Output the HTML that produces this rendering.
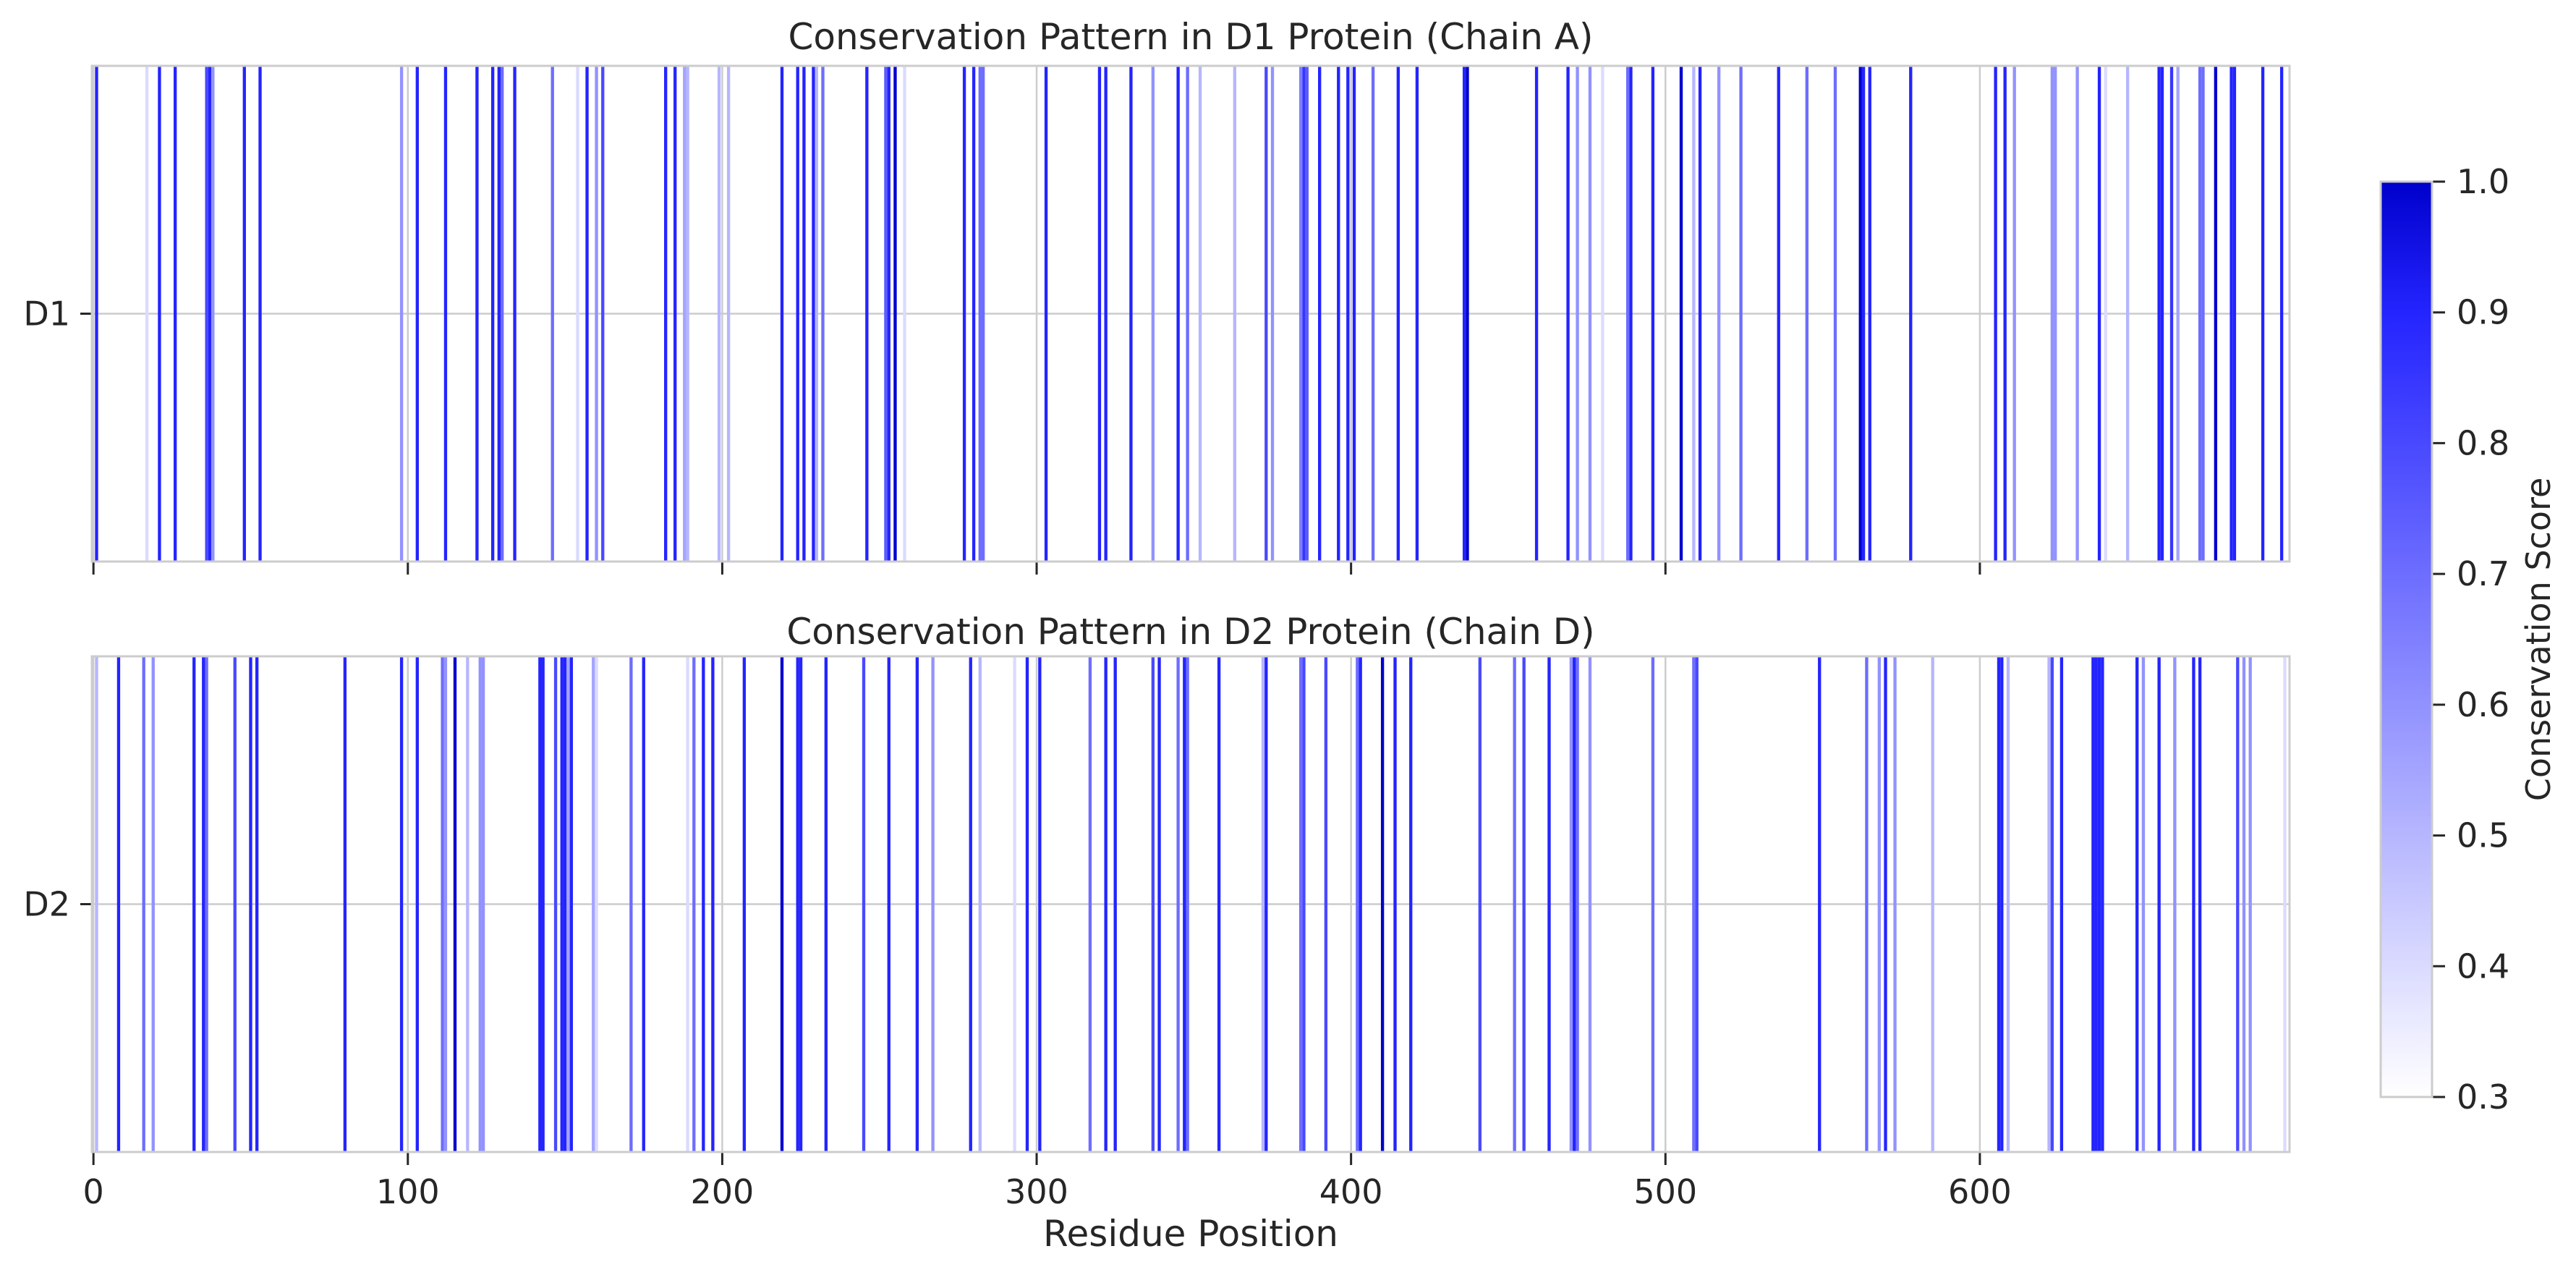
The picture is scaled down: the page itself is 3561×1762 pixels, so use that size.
<!DOCTYPE html>
<html>
<head>
<meta charset="utf-8">
<style>
  html,body{margin:0;padding:0;background:#fff;}
  svg{display:block;font-family:"DejaVu Sans","Liberation Sans",sans-serif;}
</style>
</head>
<body>
<svg id="chart" width="3561" height="1762" viewBox="0 0 3561 1762" xmlns="http://www.w3.org/2000/svg">
  <defs>
    <linearGradient id="cbgrad" x1="0" y1="1" x2="0" y2="0">
      <stop offset="0" stop-color="#ffffff"/>
      <stop offset="0.857" stop-color="#2424ff"/>
      <stop offset="1" stop-color="#0000cc"/>
    </linearGradient>
  </defs>
  <g id="panels"></g>
  <text x="1646" y="68" font-size="50" text-anchor="middle" fill="#262626">Conservation Pattern in D1 Protein (Chain A)</text>
  <text x="1646" y="890" font-size="50" text-anchor="middle" fill="#262626">Conservation Pattern in D2 Protein (Chain D)</text>
  <text x="1646" y="1722" font-size="50" text-anchor="middle" fill="#262626">Residue Position</text>
  <g id="colorbar"></g>
</svg>
<script>
const xTicks = [0, 100, 200, 300, 400, 500, 600];
const cbTicks = [0.3, 0.4, 0.5, 0.6, 0.7, 0.8, 0.9, 1.0];
const d1Pos = [1,17,21,26,36,37,38,48,53,98,103,112,122,127,129,130,134,146,154,157,160,162,182,185,188,189,199,202,219,224,226,229,230,232,246,252,253,255,258,277,280,282,283,303,320,322,330,337,345,348,352,363,373,375,384,385,386,390,396,399,401,407,415,421,436,437,459,469,472,476,480,488,489,496,505,509,511,517,524,536,545,554,562,563,565,578,605,608,611,623,624,631,638,640,647,657,658,661,663,670,671,675,680,681,690,696];
const d1Val = [.9,.4,.9,.9,.8,.9,.6,.9,.9,.6,.9,.9,.9,.9,.9,.7,.9,.7,.4,.9,.6,.8,.9,.9,.55,.5,.5,.5,.9,.9,.9,.9,.5,.7,.9,.75,.9,1.0,.4,.9,.9,.7,.7,.9,.9,.9,.9,.6,.9,.7,.5,.5,.8,.6,.65,.85,.75,.9,.9,.9,.9,.7,.9,.9,.9,1.0,.9,.9,.6,.6,.4,.7,.9,.9,1.0,.5,.9,.6,.7,.9,.7,.7,1.0,.9,.9,.9,.9,.9,.6,.6,.6,.6,.9,.4,.5,.9,.9,.85,.55,.7,.7,1.0,.9,.9,.9,.9];
const d2Pos = [1,8,16,19,32,35,36,45,50,52,80,98,103,111,112,115,119,123,124,142,143,147,149,150,151,152,159,160,171,175,189,191,194,197,207,219,224,225,233,245,253,262,267,279,282,293,297,301,317,322,325,337,339,345,347,348,358,372,373,384,385,392,402,403,410,414,419,441,452,455,463,470,471,472,476,496,509,510,549,564,568,570,573,585,606,607,609,622,623,626,636,637,638,639,650,652,657,662,668,670,682,684,686,697];
const d2Val = [.5,.9,.7,.6,.9,.9,.7,.8,.9,.9,.9,.9,.9,.7,.6,1.0,.5,.6,.6,.9,.9,.8,.9,.9,.55,.9,.55,.4,.7,.9,.4,.7,.9,.9,.9,1.0,.9,.9,.9,.8,.9,.9,.6,.9,.5,.4,.9,.9,.7,.9,.9,.8,.9,.7,.9,.7,.9,.5,.9,.7,.8,.8,.7,.9,1.0,.9,.9,.8,.7,.8,.9,.6,.9,.7,.6,.7,.7,.8,.9,.7,.6,.9,.6,.5,.9,.9,.5,.5,.8,.9,.9,.9,.9,.9,.9,.6,.9,.6,.9,.9,.8,.6,.6,.4];

const NS = "http://www.w3.org/2000/svg";
const AX_L = 127, AX_R = 3165, XMIN = -0.5, XMAX = 698.5;
function xs(u){ return AX_L + (u - XMIN) / (XMAX - XMIN) * (AX_R - AX_L); }
function color(v){
  let r, b;
  if (v <= 0.9){ const t = Math.max(0,(v-0.3)/0.6); r = 255 - 219*t; b = 255; }
  else { const s = Math.min(1,(v-0.9)/0.1); r = 36*(1-s); b = 255 - 51*s; }
  r = Math.round(r); b = Math.round(b);
  return `rgb(${r},${r},${b})`;
}
function mk(tag, attrs, parent){
  const e = document.createElementNS(NS, tag);
  for (const k in attrs) e.setAttribute(k, attrs[k]);
  parent.appendChild(e);
  return e;
}
const panels = document.getElementById("panels");
const cbG = document.getElementById("colorbar");

function drawPanel(top, bottom, pos, val, label, showLabels, key){
  const g = mk("g", {}, panels);
  
  
  const midY = (top + bottom) / 2;
  xTicks.forEach(t => {
    const l = mk("line", {x1: xs(t), x2: xs(t), y1: top, y2: bottom, stroke: "#cccccc", "stroke-width": 2.5}, g);
    
    
  });
  const hl = mk("line", {x1: AX_L, x2: AX_R, y1: midY, y2: midY, stroke: "#cccccc", "stroke-width": 2.5}, g);
  
  
  const w = (AX_R - AX_L) / (XMAX - XMIN);
  pos.forEach((p, i) => {
    const r = mk("rect", {x: xs(p - 0.5), y: top, width: w, height: bottom - top, fill: color(val[i])}, g);
    
    
  });
  const sp = mk("rect", {x: AX_L, y: top, width: AX_R - AX_L, height: bottom - top, fill: "none", stroke: "#cccccc", "stroke-width": 3}, g);
  
  
  xTicks.forEach(t => {
    const tk = mk("line", {x1: xs(t), x2: xs(t), y1: bottom + 1.5, y2: bottom + 18, stroke: "#262626", "stroke-width": 3}, g);
    
    
    if (showLabels){
      const tx = mk("text", {x: xs(t), y: bottom + 71, "font-size": 46, "text-anchor": "middle", fill: "#262626"}, g);
      tx.textContent = String(t);
      
      
    }
  });
  const yt = mk("line", {x1: AX_L - 16, x2: AX_L - 1.5, y1: midY, y2: midY, stroke: "#262626", "stroke-width": 3}, g);
  
  
  const yl = mk("text", {x: AX_L - 30, y: midY + 16, "font-size": 46, "text-anchor": "end", fill: "#262626"}, g);
  yl.textContent = label;
  
  
}
drawPanel(91, 776, d1Pos, d1Val, "D1", false, "d1");
drawPanel(907, 1592, d2Pos, d2Val, "D2", true, "d2");

const CB_T = 251, CB_B = 1516, CB_L = 3291, CB_R = 3362;
function cy(v){ return CB_B - (v - 0.3) / 0.7 * (CB_B - CB_T); }
const cbr = mk("rect", {x: CB_L, y: CB_T, width: CB_R - CB_L, height: CB_B - CB_T, fill: "url(#cbgrad)", stroke: "#cccccc", "stroke-width": 3}, cbG);


cbTicks.forEach(v => {
  const t = mk("line", {x1: CB_R + 1.5, x2: CB_R + 18, y1: cy(v), y2: cy(v), stroke: "#262626", "stroke-width": 3}, cbG);
  
  
  const tx = mk("text", {x: CB_R + 34, y: cy(v) + 16, "font-size": 46, fill: "#262626"}, cbG);
  tx.textContent = v.toFixed(1);
  
  
});
const cbt = mk("text", {x: 0, y: 0, "font-size": 46, "text-anchor": "middle", fill: "#262626", transform: `translate(3525, ${(CB_T+CB_B)/2}) rotate(-90)`}, cbG);
cbt.textContent = "Conservation Score";


</script>
</body>
</html>
